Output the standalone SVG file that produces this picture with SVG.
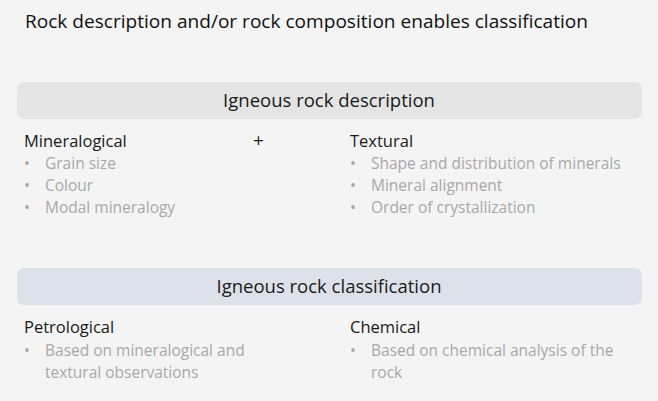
<svg xmlns="http://www.w3.org/2000/svg" width="658" height="401" viewBox="0 0 658 401">
<style>
text{font-family:"Open Sans",sans-serif}
.t{font-size:18px;fill:#111}
.h{font-size:18.5px;fill:#1a1a1a;text-anchor:middle}
.s{font-size:16.5px;fill:#1a1a1a}
.b{font-size:15.5px;fill:#a8a8a8}
</style>
<rect width="658" height="401" fill="#f4f4f4"/>
<text class="t" x="25" y="28" textLength="563" lengthAdjust="spacingAndGlyphs">Rock description and/or rock composition enables classification</text>
<g id="desc">
<rect x="17" y="82" width="625" height="37" rx="7" fill="#e5e5e5"/>
<text class="h" x="329" y="107">Igneous rock description</text>
</g>
<g id="mineralogical">
<text class="s" x="24" y="147">Mineralogical</text>
<text class="b" x="24" y="169">•</text><text class="b" x="45" y="169">Grain size</text>
<text class="b" x="24" y="191">•</text><text class="b" x="45" y="191">Colour</text>
<text class="b" x="24" y="213">•</text><text class="b" x="45" y="213">Modal mineralogy</text>
</g>
<text class="s" x="253" y="147" style="font-size:19px">+</text>
<g id="textural">
<text class="s" x="350" y="147">Textural</text>
<text class="b" x="350" y="169">•</text><text class="b" x="371" y="169">Shape and distribution of minerals</text>
<text class="b" x="350" y="191">•</text><text class="b" x="371" y="191">Mineral alignment</text>
<text class="b" x="350" y="213">•</text><text class="b" x="371" y="213">Order of crystallization</text>
</g>
<g id="class">
<rect x="17" y="268" width="625" height="37" rx="7" fill="#dde2ea"/>
<text class="h" x="329" y="293">Igneous rock classification</text>
</g>
<g id="petrological">
<text class="s" x="24" y="333">Petrological</text>
<text class="b" x="24" y="356">•</text><text class="b" x="45" y="356">Based on mineralogical and</text>
<text class="b" x="45" y="378">textural observations</text>
</g>
<g id="chemical">
<text class="s" x="350" y="333">Chemical</text>
<text class="b" x="350" y="356">•</text><text class="b" x="371" y="356">Based on chemical analysis of the</text>
<text class="b" x="371" y="378">rock</text>
</g>
<g id="connectors"/>
</svg>
